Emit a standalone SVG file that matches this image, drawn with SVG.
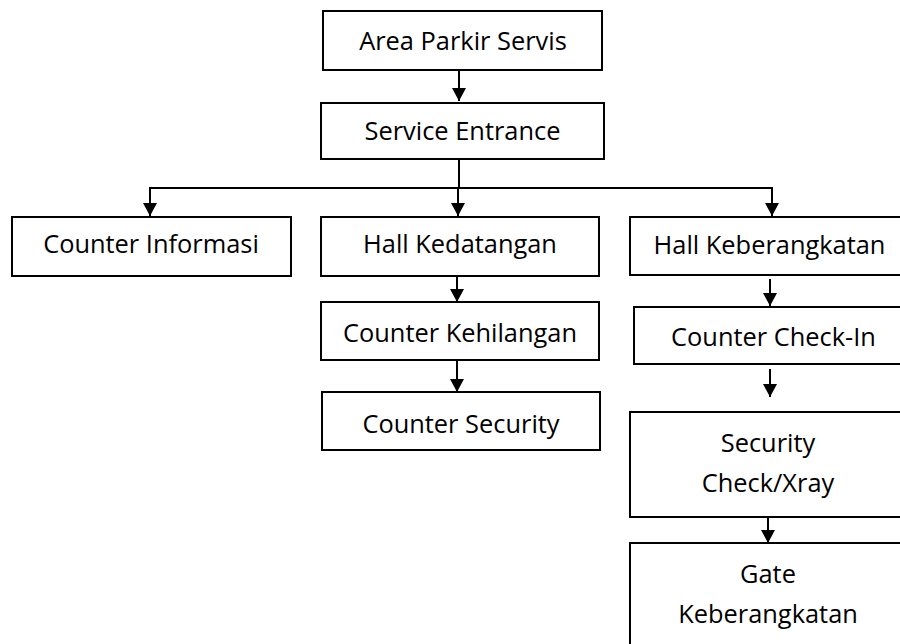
<svg xmlns="http://www.w3.org/2000/svg" width="900" height="644" viewBox="0 0 900 644">
<defs>
<marker id="ah" markerUnits="userSpaceOnUse" markerWidth="14" markerHeight="14" viewBox="0 0 14 14" refX="13" refY="7" orient="auto">
<path d="M0,0 L13,7 L0,14 Z" fill="#000"/>
</marker>
<style>
.box{fill:#fff;stroke:#000;stroke-width:2}
.t{font-family:"Open Sans","Liberation Sans",sans-serif;font-size:25.4px;fill:#000;text-anchor:middle}
.c{fill:none;stroke:#000;stroke-width:2}
</style>
</defs>
<rect width="900" height="644" fill="#fff"/>
<g id="connectors">
<line class="c" x1="459" y1="70" x2="459" y2="101" marker-end="url(#ah)"/>
<polyline class="c" points="459,159 459,188"/>
<polyline class="c" points="150,188 772,188"/>
<line class="c" x1="150" y1="187" x2="150" y2="216" marker-end="url(#ah)"/>
<line class="c" x1="458" y1="187" x2="458" y2="216" marker-end="url(#ah)"/>
<line class="c" x1="772" y1="187" x2="772" y2="216" marker-end="url(#ah)"/>
<line class="c" x1="457" y1="276" x2="457" y2="302" marker-end="url(#ah)"/>
<line class="c" x1="457" y1="360" x2="457" y2="392" marker-end="url(#ah)"/>
<line class="c" x1="770" y1="279" x2="770" y2="306" marker-end="url(#ah)"/>
<line class="c" x1="770" y1="369" x2="770" y2="397" marker-end="url(#ah)"/>
<line class="c" x1="768" y1="517" x2="768" y2="543" marker-end="url(#ah)"/>
</g>
<g id="area-parkir-servis">
<rect class="box" x="323" y="11" width="279" height="59"/>
<text class="t" x="463" y="50">Area Parkir Servis</text>
</g>
<g id="service-entrance">
<rect class="box" x="321" y="103" width="283" height="56"/>
<text class="t" x="462.5" y="140">Service Entrance</text>
</g>
<g id="counter-informasi">
<rect class="box" x="12" y="217" width="279" height="59"/>
<text class="t" x="151" y="253">Counter Informasi</text>
</g>
<g id="hall-kedatangan">
<rect class="box" x="321" y="217" width="278" height="59"/>
<text class="t" x="460" y="253">Hall Kedatangan</text>
</g>
<g id="counter-kehilangan">
<rect class="box" x="321" y="302" width="278" height="58"/>
<text class="t" x="460" y="342">Counter Kehilangan</text>
</g>
<g id="counter-security">
<rect class="box" x="322" y="392" width="278" height="58"/>
<text class="t" x="461" y="433">Counter Security</text>
</g>
<g id="hall-keberangkatan">
<rect class="box" x="630" y="217" width="280" height="58"/>
<text class="t" x="769.5" y="254">Hall Keberangkatan</text>
</g>
<g id="counter-check-in">
<rect class="box" x="634" y="307" width="274" height="57"/>
<text class="t" x="773.5" y="346">Counter Check-In</text>
</g>
<g id="security-check-xray">
<rect class="box" x="630" y="412" width="280" height="105"/>
<text class="t" x="768" y="452">Security</text>
<text class="t" x="768" y="492">Check/Xray</text>
</g>
<g id="gate-keberangkatan">
<rect class="box" x="630" y="543" width="280" height="110"/>
<text class="t" x="768" y="583">Gate</text>
<text class="t" x="768" y="623">Keberangkatan</text>
</g>
</svg>
